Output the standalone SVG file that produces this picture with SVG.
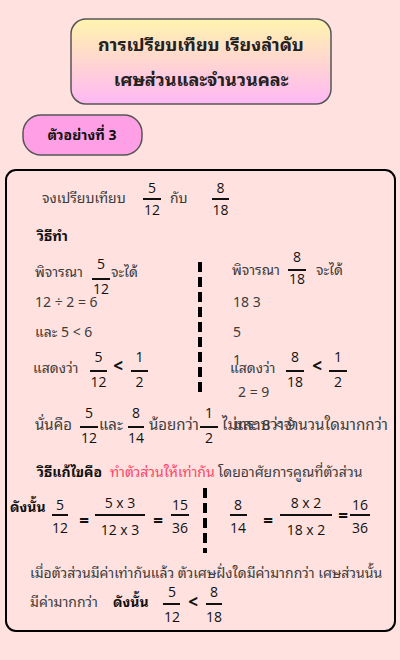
<svg xmlns="http://www.w3.org/2000/svg" width="400" height="660" viewBox="0 0 400 660">
<defs>
<linearGradient id="tg" x1="0" y1="0" x2="0" y2="1">
<stop offset="0" stop-color="#FFF4AE"/>
<stop offset="1" stop-color="#FFB8F4"/>
</linearGradient>
<style>
.th{font-family:"Noto Sans Thai Looped","Tahoma","Noto Sans Thai","Noto Sans","DejaVu Sans",sans-serif;font-size:14px;fill:#3c3c3c}
.big{font-size:15px}
.bd{font-weight:bold;fill:#111}
.rd{fill:#FF4466}
.n{font-family:"Open Sans","Noto Sans",sans-serif;font-size:14px;fill:#111;text-anchor:middle}
.op{font-family:"Open Sans","Noto Sans",sans-serif;font-size:17px;fill:#111;text-anchor:middle;font-weight:bold}
.fl{stroke:#111;stroke-width:2}
.dv{stroke:#000;stroke-width:4;stroke-dasharray:10 5}
.ttl{font-family:"Noto Sans Thai Looped","Tahoma","Noto Sans Thai","Noto Sans",sans-serif;font-size:18px;font-weight:bold;fill:#222;text-anchor:middle}
</style>
</defs>
<rect width="400" height="660" fill="#FFE2DF"/>

<g id="title">
<rect x="71" y="19" width="260" height="85" rx="15" fill="url(#tg)" stroke="#555" stroke-width="1.5"/>
<text class="ttl" x="201" y="51">การเปรียบเทียบ เรียงลำดับ</text>
<text class="ttl" x="201" y="86">เศษส่วนและจำนวนคละ</text>
</g>

<g id="example-label">
<rect x="23" y="115" width="119" height="40" rx="18" fill="#FFA0E6" stroke="#555" stroke-width="1.5"/>
<text class="th bd" x="82" y="140" text-anchor="middle">ตัวอย่างที่ 3</text>
</g>

<g id="main">
<rect x="6" y="170" width="389" height="461" rx="10" fill="none" stroke="#000" stroke-width="2"/>
</g>

<g id="dividers">
<line class="dv" x1="200" y1="262" x2="200" y2="393"/>
<line class="dv" x1="205" y1="488" x2="205" y2="553"/>
</g>

<g id="question">
<text class="th" x="42" y="203">จงเปรียบเทียบ</text>
<text class="n" x="152" y="193">5</text><line class="fl" x1="143" y1="199" x2="161" y2="199"/><text class="n" x="152" y="215">12</text>
<text class="th" x="170" y="203">กับ</text>
<text class="n" x="220.5" y="193">8</text><line class="fl" x1="212" y1="199" x2="229" y2="199"/><text class="n" x="220.5" y="215">18</text>
<text class="th bd" x="37" y="241">วิธีทำ</text>
</g>

<g id="left-col">
<text class="th" x="35" y="277">พิจารณา</text>
<text class="n" x="101" y="269">5</text><line class="fl" x1="92" y1="279" x2="110" y2="279"/><text class="n" x="101" y="294">12</text>
<text class="th" x="111" y="277">จะได้</text>
<text class="th" x="35" y="307">12 ÷ 2 = 6</text>
<text class="th" x="35" y="337">และ 5 &lt; 6</text>
<text class="th" x="33" y="373">แสดงว่า</text>
<text class="n" x="98.5" y="362">5</text><line class="fl" x1="90" y1="371" x2="107" y2="371"/><text class="n" x="98.5" y="387">12</text>
<text class="op" x="118" y="372">&lt;</text>
<text class="n" x="139.5" y="362">1</text><line class="fl" x1="131" y1="371" x2="148" y2="371"/><text class="n" x="139.5" y="387">2</text>
</g>

<g id="right-col">
<text class="th" x="232" y="275">พิจารณา</text>
<text class="n" x="297" y="262">8</text><line class="fl" x1="288" y1="270" x2="306" y2="270"/><text class="n" x="297" y="284">18</text>
<text class="th" x="316" y="275">จะได้</text>
<text class="th" x="233" y="307">18 3</text>
<text class="th" x="233" y="337">5</text>
<text class="th" x="233" y="365">1</text>
<text class="th" x="230" y="373">แสดงว่า</text>
<text class="n" x="295" y="362">8</text><line class="fl" x1="286" y1="371" x2="304" y2="371"/><text class="n" x="295" y="387">18</text>
<text class="op" x="317" y="372">&lt;</text>
<text class="n" x="338" y="362">1</text><line class="fl" x1="329" y1="371" x2="347" y2="371"/><text class="n" x="338" y="387">2</text>
<text class="th" x="238" y="397">2 = 9</text>
</g>

<g id="conclusion1">
<text class="th big" x="35" y="430">นั่นคือ</text>
<text class="n" x="89" y="418">5</text><line class="fl" x1="80" y1="427" x2="98" y2="427"/><text class="n" x="89" y="443">12</text>
<text class="th big" x="99" y="430">และ</text>
<text class="n" x="136" y="418">8</text><line class="fl" x1="128" y1="427" x2="144" y2="427"/><text class="n" x="136" y="443">14</text>
<text class="th big" x="149" y="430">น้อยกว่า</text>
<text class="n" x="209" y="418">1</text><line class="fl" x1="200" y1="427" x2="218" y2="427"/><text class="n" x="209" y="443">2</text>
<text class="th big" x="222" y="430" textLength="166" lengthAdjust="spacingAndGlyphs">ไม่ทราบว่าจำนวนใดมากกว่า</text>
<text class="th big" x="234" y="430">และ 8 &lt; 9</text>
</g>

<g id="method">
<text class="th" x="37" y="477"><tspan class="bd">วิธีแก้ไขคือ</tspan> <tspan class="rd" x="110">ทำตัวส่วนให้เท่ากัน</tspan> <tspan x="218">โดยอาศัยการคูณที่ตัวส่วน</tspan></text>
</g>

<g id="calc">
<text class="th bd" x="10" y="512">ดังนั้น</text>
<text class="n" x="60" y="510">5</text><line class="fl" x1="52" y1="515" x2="68" y2="515"/><text class="n" x="60" y="533">12</text>
<text class="op" x="84" y="527">=</text>
<text class="n" x="120" y="508">5 x 3</text><line class="fl" x1="95" y1="515" x2="145" y2="515"/><text class="n" x="120" y="535">12 x 3</text>
<text class="op" x="158" y="527">=</text>
<text class="n" x="180" y="510">15</text><line class="fl" x1="171" y1="515" x2="189" y2="515"/><text class="n" x="180" y="533">36</text>
<text class="n" x="238" y="510">8</text><line class="fl" x1="230" y1="515" x2="247" y2="515"/><text class="n" x="238" y="533">14</text>
<text class="op" x="268" y="527">=</text>
<text class="n" x="306" y="508">8 x 2</text><line class="fl" x1="280" y1="515" x2="332" y2="515"/><text class="n" x="306" y="535">18 x 2</text>
<text class="op" x="343" y="522">=</text>
<text class="n" x="360" y="510">16</text><line class="fl" x1="350" y1="515" x2="370" y2="515"/><text class="n" x="360" y="533">36</text>
</g>

<g id="summary">
<text class="th" x="30" y="578">เมื่อตัวส่วนมีค่าเท่ากันแล้ว ตัวเศษฝั่งใดมีค่ามากกว่า เศษส่วนนั้น</text>
<text class="th" x="30" y="607">มีค่ามากกว่า</text>
<text class="th bd" x="113" y="607">ดังนั้น</text>
<text class="n" x="172" y="597">5</text><line class="fl" x1="163" y1="604" x2="180" y2="604"/><text class="n" x="172" y="622">12</text>
<text class="op" x="193" y="608">&lt;</text>
<text class="n" x="214" y="597">8</text><line class="fl" x1="206" y1="604" x2="222" y2="604"/><text class="n" x="214" y="622">18</text>
</g>
</svg>
